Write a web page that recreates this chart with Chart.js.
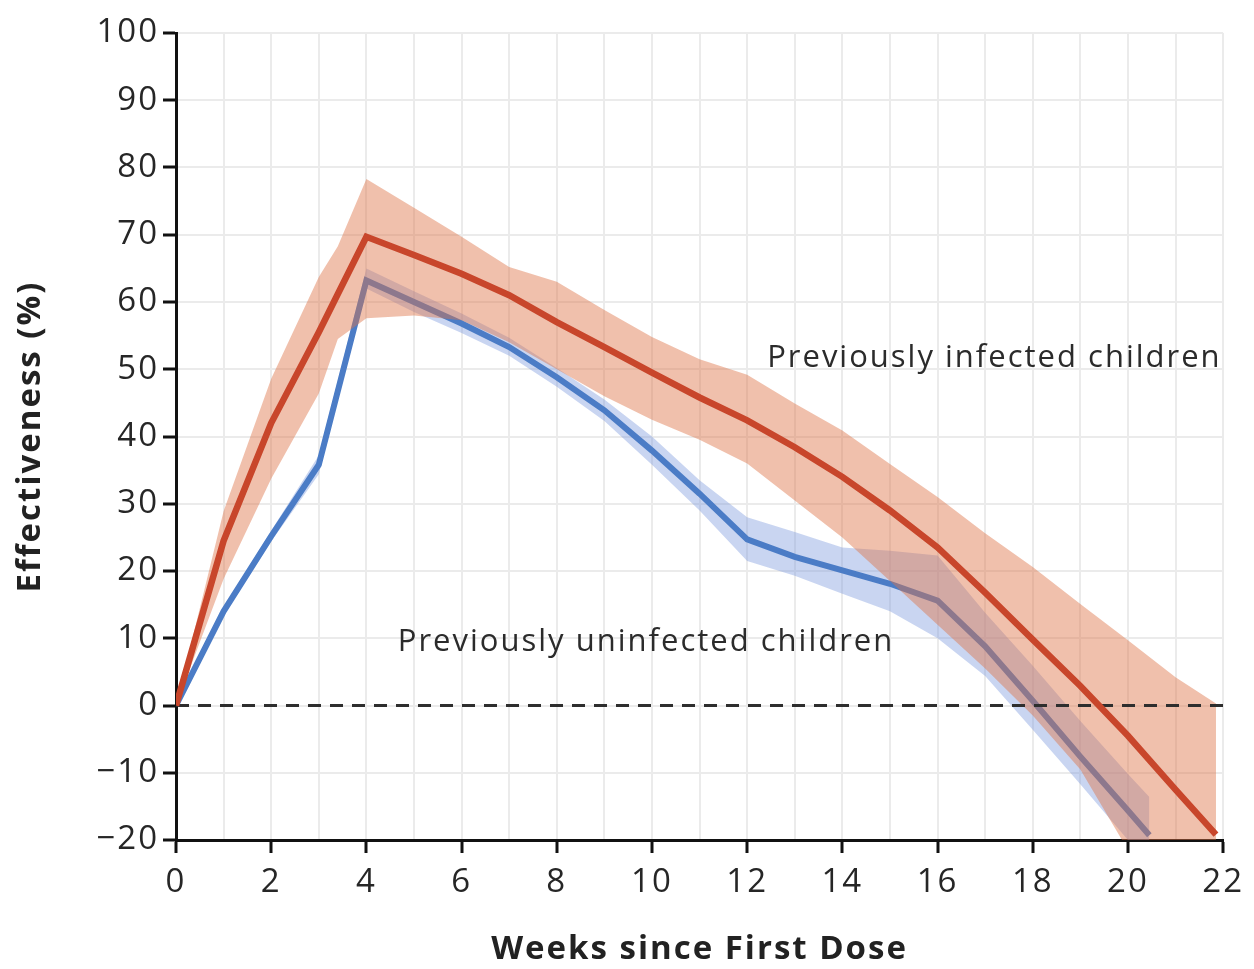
<!DOCTYPE html>
<html>
<head>
<meta charset="utf-8">
<script src="https://cdn.jsdelivr.net/npm/chart.js@4.4.1/dist/chart.umd.min.js"></script>
<style>
  html, body { margin: 0; padding: 0; background: #fff; }
  #wrap { width: 1254px; height: 969px; position: relative; }
</style>
</head>
<body>
<div id="wrap"><canvas id="chart"></canvas></div>
<script>
// weeks since first dose
const infectedWeeks = [0, 1, 2, 3, 3.4, 4, 5, 6, 7, 8, 9, 10, 11, 12, 13, 14, 15, 16, 17, 18, 19, 20, 21, 21.85];
const infected      = [0, 24.5, 42, 55.5, 61.2, 69.7, 67, 64.2, 61, 57, 53.3, 49.5, 45.8, 42.4, 38.4, 34, 29, 23.5, 16.8, 9.8, 2.9, -4.5, -12.5, -19.2];
const infectedUpper = [0, 28.9, 48.6, 63.7, 68.3, 78.3, 74, 69.7, 65.2, 63, 58.8, 54.8, 51.5, 49.2, 44.9, 40.9, 35.9, 31, 25.6, 20.6, 15.1, 9.7, 4.2, 0.3];
const infectedLower = [0, 18.8, 33.7, 46.4, 54.5, 57.6, 58, 57.3, 54, 50, 46, 42.5, 39.5, 36, 30.5, 25, 18.5, 12, 5.5, -1.5, -9.5, -21.5, -30, -37];

const uninfectedWeeks = [0, 1, 2, 3, 4, 5, 6, 7, 8, 9, 10, 11, 12, 13, 14, 15, 16, 17, 18, 19, 20, 20.45];
const uninfected      = [0, 14, 25.2, 35.8, 63.2, 60, 56.8, 53.3, 48.8, 43.9, 37.9, 31.5, 24.7, 22.1, 20.1, 18.1, 15.6, 8.8, 0.7, -7.6, -15.6, -19.3];
const uninfectedUpper = [0, 14.6, 26, 37.2, 65, 61.6, 58.3, 54.7, 50.2, 45.5, 40, 33.5, 28, 25.8, 23.5, 23, 22.3, 13.8, 5.9, -2.3, -10.2, -13.6];
const uninfectedLower = [0, 13.4, 24.4, 34.4, 62, 58.5, 55.4, 52, 47.4, 42.3, 35.8, 29, 21.5, 19.3, 16.6, 14, 10, 4.4, -3.6, -11.7, -20, -24];

const referenceWeeks = [0, 22];
const reference = [0, 0];

const seriesLabels = [
  { text: 'Previously infected children', week: 12.42, value: 51.6 },
  { text: 'Previously uninfected children', week: 4.66, value: 9.4 }
];

const FONT = '"Open Sans"';
const SPACING = '2px';
const toPoints = (xs, ys) => xs.map((x, i) => ({ x: x, y: ys[i] }));

// the original lettering is wide, so space the letters a little
const spacingPlugin = {
  id: 'spacing',
  beforeUpdate(chart) { chart.ctx.letterSpacing = SPACING; },
  beforeDraw(chart) { chart.ctx.letterSpacing = SPACING; }
};

// draws the two curve labels inside the plot
const labelPlugin = {
  id: 'seriesLabels',
  afterDatasetsDraw(chart) {
    const { ctx, scales: { x, y } } = chart;
    ctx.save();
    ctx.letterSpacing = SPACING;
    ctx.font = '31px ' + FONT;
    ctx.fillStyle = '#2b2b2b';
    ctx.textBaseline = 'middle';
    seriesLabels.forEach(l => {
      ctx.fillText(l.text, x.getPixelForValue(l.week), y.getPixelForValue(l.value));
    });
    ctx.restore();
  }
};

const ctx = document.getElementById('chart').getContext('2d');
new Chart(ctx, {
  type: 'line',
  data: {
    datasets: [
      {
        label: 'Previously infected',
        data: toPoints(infectedWeeks, infected),
        borderColor: '#c8462b',
        borderWidth: 6.5,
        pointRadius: 0,
        fill: false,
        order: 0
      },
      {
        label: 'Zero',
        data: toPoints(referenceWeeks, reference),
        borderColor: '#2e2e2e',
        borderWidth: 2.8,
        borderDash: [13, 9],
        pointRadius: 0,
        fill: false,
        order: 1
      },
      {
        label: 'Infected upper',
        data: toPoints(infectedWeeks, infectedUpper),
        borderWidth: 0,
        pointRadius: 0,
        backgroundColor: 'rgba(222, 115, 71, 0.45)',
        fill: '+1',
        order: 2
      },
      {
        label: 'Infected lower',
        data: toPoints(infectedWeeks, infectedLower),
        borderWidth: 0,
        pointRadius: 0,
        fill: false,
        order: 2
      },
      {
        label: 'Previously uninfected',
        data: toPoints(uninfectedWeeks, uninfected),
        borderColor: '#4b7cc6',
        borderWidth: 6,
        pointRadius: 0,
        fill: false,
        order: 3
      },
      {
        label: 'Uninfected upper',
        data: toPoints(uninfectedWeeks, uninfectedUpper),
        borderWidth: 0,
        pointRadius: 0,
        backgroundColor: 'rgba(120, 150, 220, 0.4)',
        fill: '+1',
        order: 4
      },
      {
        label: 'Uninfected lower',
        data: toPoints(uninfectedWeeks, uninfectedLower),
        borderWidth: 0,
        pointRadius: 0,
        fill: false,
        order: 4
      }
    ]
  },
  options: {
    responsive: true,
    maintainAspectRatio: false,
    animation: false,
    layout: { padding: { top: 33, right: 29, left: 0, bottom: 0 } },
    plugins: {
      legend: { display: false },
      tooltip: { enabled: false }
    },
    scales: {
      x: {
        type: 'linear',
        min: 0,
        max: 22,
        afterFit: scale => { scale.height = 129; },
        ticks: {
          stepSize: 1,
          autoSkip: false,
          maxRotation: 0,
          padding: 10,
          color: '#262626',
          font: { family: FONT, size: 33 },
          callback: v => (v % 2 === 0 ? v : '')
        },
        grid: {
          color: '#ebebeb',
          lineWidth: 2,
          tickLength: 13,
          tickWidth: 3,
          tickColor: c => (c.tick && c.tick.value % 2 === 0 ? '#111' : 'rgba(0,0,0,0)')
        },
        border: { color: '#111', width: 3 },
        title: {
          display: true,
          text: 'Weeks since First Dose',
          color: '#222',
          font: { family: FONT, size: 33, weight: 'bold' },
          padding: { top: 10, bottom: 0 }
        }
      },
      y: {
        min: -20,
        max: 100,
        afterFit: scale => { scale.width = 176; },
        ticks: {
          stepSize: 10,
          padding: 4,
          color: '#262626',
          font: { family: FONT, size: 33 },
          callback: v => (v < 0 ? '\u2212' + Math.abs(v) : v)
        },
        grid: {
          color: '#ebebeb',
          lineWidth: 2,
          tickLength: 13,
          tickWidth: 3,
          tickColor: '#111'
        },
        border: { color: '#111', width: 3 },
        title: {
          display: true,
          text: 'Effectiveness (%)',
          color: '#222',
          font: { family: FONT, size: 33, weight: 'bold' },
          padding: { top: 11, bottom: 0 }
        }
      }
    }
  },
  plugins: [spacingPlugin, labelPlugin]
});
</script>
</body>
</html>
